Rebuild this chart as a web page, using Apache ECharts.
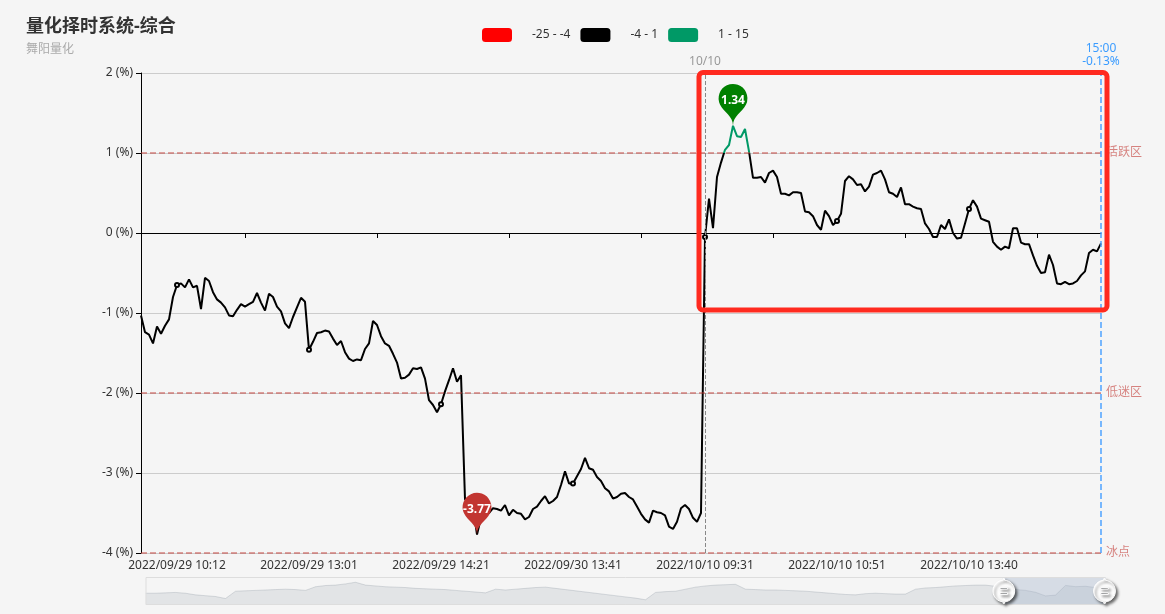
<!DOCTYPE html>
<html><head><meta charset="utf-8">
<script src="https://cdn.jsdelivr.net/npm/echarts@6/dist/echarts.min.js"></script>
<style>html,body{margin:0;padding:0;background:#f5f5f5}#c{width:1165px;height:614px}</style>
</head><body><div id="c"></div>
<script>
// ---------- data ----------
const tradeDays = ['2022/09/29', '2022/09/30', '2022/10/10'];
// [index, time] anchors of the category axis (the shown tick labels are the inner ones)
const labelAnchors = [
  [0, '2022/09/29 09:50'],
  [9, '2022/09/29 10:12'],
  [42, '2022/09/29 13:01'],
  [75, '2022/09/29 14:21'],
  [108, '2022/09/30 13:41'],
  [141, '2022/10/10 09:31'],
  [174, '2022/10/10 10:51'],
  [207, '2022/10/10 13:40'],
  [240, '2022/10/10 15:00']
];
// 综合 value (%)
const pctValues = [
  -1.03,-1.24,-1.27,-1.38,-1.17,-1.26,-1.16,-1.08,-0.80,-0.65,
  -0.63,-0.68,-0.58,-0.68,-0.66,-0.95,-0.56,-0.60,-0.74,-0.83,
  -0.87,-0.93,-1.03,-1.04,-0.96,-0.89,-0.92,-0.89,-0.86,-0.75,
  -0.87,-0.97,-0.76,-0.80,-0.92,-0.98,-1.13,-1.19,-1.05,-0.93,
  -0.81,-0.86,-1.46,-1.36,-1.25,-1.24,-1.22,-1.23,-1.32,-1.40,
  -1.35,-1.49,-1.57,-1.60,-1.58,-1.59,-1.45,-1.38,-1.10,-1.15,
  -1.29,-1.38,-1.41,-1.51,-1.62,-1.82,-1.81,-1.77,-1.69,-1.70,
  -1.68,-1.82,-2.09,-2.15,-2.24,-2.14,-1.98,-1.84,-1.69,-1.86,
  -1.78,-3.33,-3.35,-3.42,-3.77,-3.56,-3.52,-3.50,-3.44,-3.45,
  -3.47,-3.40,-3.53,-3.46,-3.50,-3.51,-3.58,-3.55,-3.45,-3.42,
  -3.35,-3.29,-3.38,-3.35,-3.30,-3.15,-2.98,-3.13,-3.13,-3.04,
  -2.95,-2.81,-2.94,-2.96,-3.05,-3.10,-3.19,-3.23,-3.32,-3.30,
  -3.26,-3.25,-3.30,-3.33,-3.42,-3.51,-3.58,-3.62,-3.47,-3.49,
  -3.50,-3.53,-3.67,-3.70,-3.61,-3.44,-3.40,-3.45,-3.56,-3.61,
  -3.50,-0.05,0.43,0.06,0.70,0.88,1.04,1.10,1.34,1.21,
  1.20,1.30,1.02,0.69,0.69,0.70,0.63,0.75,0.78,0.70,
  0.49,0.49,0.47,0.51,0.51,0.50,0.27,0.26,0.21,0.10,
  0.04,0.28,0.21,0.10,0.15,0.24,0.65,0.71,0.67,0.60,
  0.61,0.52,0.58,0.73,0.75,0.78,0.67,0.51,0.49,0.45,
  0.57,0.36,0.36,0.33,0.31,0.30,0.12,0.05,-0.05,-0.05,
  0.10,0.05,0.17,0.00,-0.07,-0.06,0.12,0.30,0.41,0.33,
  0.18,0.16,0.14,-0.11,-0.17,-0.21,-0.17,-0.19,0.06,0.06,
  -0.12,-0.14,-0.14,-0.28,-0.41,-0.50,-0.49,-0.27,-0.40,-0.63,
  -0.64,-0.61,-0.64,-0.63,-0.60,-0.53,-0.48,-0.25,-0.21,-0.23,
  -0.13
];
// earlier history shown only in the zoom slider's background (%)
const historyValues = [
  -2.49,-2.49,-2.33,-2.16,-2.49,-3.16,-3.49,-3.83,-4.66,-1.66,
  -1.49,-1.33,-1.16,-0.99,-0.83,-0.99,-1.33,0.17,0.67,0.84,
  1.34,2.01,0.84,0.51,0.17,0.01,-0.16,-0.49,-0.66,-0.83,
  -0.99,-1.33,-1.66,-1.99,-2.33,-0.83,-1.16,-0.83,-0.49,-0.16,
  0.01,-0.49,-0.99,-1.49,-1.99,-2.49,-2.99,-3.49,-4.00,-4.49,
  -5.16,-2.16,-1.83,-1.66,-0.83,0.01,0.51,0.84,1.01,1.17,
  -0.83,-0.99,-1.16,-1.16,-1.33,-1.49,-1.66,-1.99,-2.33,-2.66,
  -2.99,-3.16,-2.66,-2.49,-2.66,-2.83,-2.83,-0.83,-0.33,-0.16,
  0.17,0.51,0.67,0.84,0.84,0.34
];
const levelLines = [
  { value: 1, name: '活跃区' },
  { value: -2, name: '低迷区' },
  { value: -4, name: '冰点' }
];
const pieces = [
  { gt: -25, lte: -4, color: '#ff0000' },
  { gt: -4, lte: 1, color: '#000000' },
  { gt: 1, lte: 15, color: '#009966' }
];
const yTicks = { min: -4, max: 2, interval: 1 };

// ---------- category axis (trading minutes between anchors) ----------
function toT(s) {
  const d = tradeDays.indexOf(s.slice(0, 10));
  const h = +s.slice(11, 13), m = +s.slice(14, 16);
  const mins = h * 60 + m;
  const sess = mins <= 690 ? mins - 570 : 120 + mins - 780;
  return d * 241 + sess;
}
function fromT(T) {
  const d = Math.floor(T / 241);
  const s = T - d * 241;
  const mins = s <= 120 ? 570 + s : 780 + s - 120;
  const hh = String(Math.floor(mins / 60)).padStart(2, '0');
  const mm = String(mins % 60).padStart(2, '0');
  return tradeDays[d] + ' ' + hh + ':' + mm;
}
const categories = [];
for (let a = 0; a < labelAnchors.length - 1; a++) {
  const [i0, s0] = labelAnchors[a], [i1, s1] = labelAnchors[a + 1];
  const t0 = toT(s0), t1 = toT(s1);
  for (let i = i0; i < i1; i++) categories.push(fromT(Math.round(t0 + (t1 - t0) * (i - i0) / (i1 - i0))));
}
categories.push(labelAnchors[labelAnchors.length - 1][1]);

const shownLabelIdx = labelAnchors.slice(1, -1).map(a => a[0]);
const labelStep = shownLabelIdx[1] - shownLabelIdx[0];
const firstLabel = shownLabelIdx[0];
const firstMidTick = firstLabel + Math.round(labelStep / 2);
const lastIdx = categories.length - 1;
const newDayIdx = categories.findIndex(c => c.startsWith(tradeDays[2]));

// slider background series: history + coarse view of the visible window
const windowCoarse = pctValues.filter((v, i) => i % 24 === 0);
const sliderSeries = historyValues.concat(windowCoarse);
const sliderCats = sliderSeries.map((v, i) => String(i));

const chart = echarts.init(document.getElementById('c'));
const FONT = "'Noto Sans', 'Noto Sans CJK SC', sans-serif";
chart.setOption({
  backgroundColor: '#f5f5f5',
  textStyle: { fontFamily: FONT },
  animation: false,
  title: {
    text: '量化择时系统-综合',
    subtext: '舞阳量化',
    left: 21, top: 13,
    itemGap: 8,
    textStyle: { fontSize: 18, fontWeight: 'bold', color: '#333', fontFamily: FONT },
    subtextStyle: { fontSize: 12, color: '#aaa', fontFamily: FONT }
  },
  tooltip: { trigger: 'axis' },
  visualMap: {
    type: 'piecewise',
    orient: 'horizontal',
    left: 467, top: 13,
    itemWidth: 30, itemHeight: 14,
    itemGap: 10, textGap: 20,
    seriesIndex: 0,
    pieces: pieces,
    textStyle: { color: '#333', fontSize: 12, fontFamily: FONT }
  },
  grid: [
    { left: 141, right: 64, top: 73, bottom: 61 },
    { left: 141, right: 64, top: 73, bottom: 61, show: false }
  ],
  xAxis: [
    {
      type: 'category', gridIndex: 0, data: categories, boundaryGap: false,
      position: 'bottom',
      axisLine: { show: false, onZero: false },
      axisTick: { show: false },
      axisLabel: {
        color: '#333', fontSize: 12, margin: 7, fontFamily: FONT,
        interval: (idx) => idx >= firstLabel && (idx - firstLabel) % labelStep === 0 && idx <= shownLabelIdx[shownLabelIdx.length - 1]
      },
      splitLine: { show: false }
    },
    {
      type: 'category', gridIndex: 0, data: categories, boundaryGap: false,
      position: 'top',
      axisLine: { show: true, onZero: true, lineStyle: { color: '#000', width: 1 } },
      axisTick: {
        show: true, inside: true, length: 5, lineStyle: { color: '#000' },
        interval: (idx) => idx >= firstMidTick && (idx - firstMidTick) % labelStep === 0
      },
      axisLabel: { show: false },
      splitLine: { show: false }
    },
    { type: 'category', gridIndex: 1, data: sliderCats, show: false, boundaryGap: false }
  ],
  yAxis: [
    {
      type: 'value', gridIndex: 0,
      min: yTicks.min, max: yTicks.max, interval: yTicks.interval,
      axisLine: { show: true, lineStyle: { color: '#000' } },
      axisTick: { show: true, length: 5, lineStyle: { color: '#000' } },
      axisLabel: { formatter: '{value} (%)', color: '#333', fontSize: 12, margin: 8, fontFamily: FONT },
      splitLine: { show: true, lineStyle: { color: '#ccc', width: 1 } }
    },
    { type: 'value', gridIndex: 1, show: false, scale: true }
  ],
  dataZoom: [{
    type: 'slider', xAxisIndex: 2,
    start: 89.3, end: 100,
    left: 143, right: 62, top: 577, height: 28,
    showDetail: false, brushSelect: false, moveHandleSize: 0,
    backgroundColor: 'rgba(0,0,0,0)',
    borderColor: '#ddd',
    fillerColor: 'rgba(167,183,204,0.4)',
    dataBackground: {
      lineStyle: { color: '#2f4554', width: 0.5, opacity: 0.3 },
      areaStyle: { color: 'rgba(47,69,84,0.3)', opacity: 0.3 }
    },
    selectedDataBackground: {
      lineStyle: { color: '#2f4554', width: 0.5, opacity: 0.3 },
      areaStyle: { color: 'rgba(47,69,84,0.3)', opacity: 0.3 }
    },
    handleIcon: 'path://M10.7,11.9v-1.3H9.3v1.3c-4.9,0.3-8.8,4.4-8.8,9.4c0,5,3.9,9.1,8.8,9.4v1.3h1.3v-1.3c4.9-0.3,8.8-4.4,8.8-9.4C19.5,16.3,15.6,12.2,10.7,11.9z M13.3,24.4H6.7V23h6.6V24.4z M13.3,19.6H6.7v-1.4h6.6V19.6z',
    handleSize: '88%',
    handleStyle: {
      color: '#fff', borderColor: '#fff', shadowBlur: 3,
      shadowColor: 'rgba(0,0,0,0.6)', shadowOffsetX: 2, shadowOffsetY: 2
    }
  }],
  series: [
    {
      name: '综合', type: 'line',
      xAxisIndex: 0, yAxisIndex: 0,
      data: pctValues,
      symbol: 'emptyCircle', symbolSize: 4,
      lineStyle: { width: 2 },
      markPoint: {
        symbol: 'pin', symbolSize: 48,
        label: { color: '#fff', fontSize: 12, fontWeight: 'bold', fontFamily: FONT },
        data: [
          { type: 'max', name: '最大值', itemStyle: { color: '#008000' } },
          { type: 'min', name: '最小值', itemStyle: { color: '#c23531' } }
        ]
      },
      markLine: {
        symbol: 'none', silent: true,
        data: levelLines.map(l => ({
          yAxis: l.value, name: l.name,
          lineStyle: { color: '#c23531', opacity: 0.6, type: 'dashed', width: 1.5 },
          label: { formatter: l.name, color: '#c23531', position: 'end', fontSize: 12 }
        })).concat([
          {
            xAxis: categories[newDayIdx], name: 'day',
            lineStyle: { color: '#888', type: 'dashed', width: 1 },
            label: { formatter: tradeDays[2].slice(5), color: '#999', position: 'end', fontSize: 12 }
          },
          {
            xAxis: categories[lastIdx], name: 'last',
            lineStyle: { color: '#4da3ff', type: 'dashed', width: 1.5 },
            label: {
              formatter: categories[lastIdx].slice(11) + '\n' + pctValues[lastIdx].toFixed(2) + '%',
              color: '#3b9cff', position: 'end', fontSize: 12, lineHeight: 13
            }
          }
        ])
      }
    },
    {
      name: 'history', type: 'line', xAxisIndex: 2, yAxisIndex: 1,
      data: sliderSeries, showSymbol: false, silent: true,
      lineStyle: { opacity: 0 }, tooltip: { show: false }
    }
  ],
  graphic: [{
    type: 'rect', silent: true, z: 100,
    shape: { x: 699, y: 72.5, width: 408, height: 237.5, r: 4 },
    style: { fill: 'none', stroke: '#ff2a1f', lineWidth: 5 }
  }]
});
</script>
</body></html>
